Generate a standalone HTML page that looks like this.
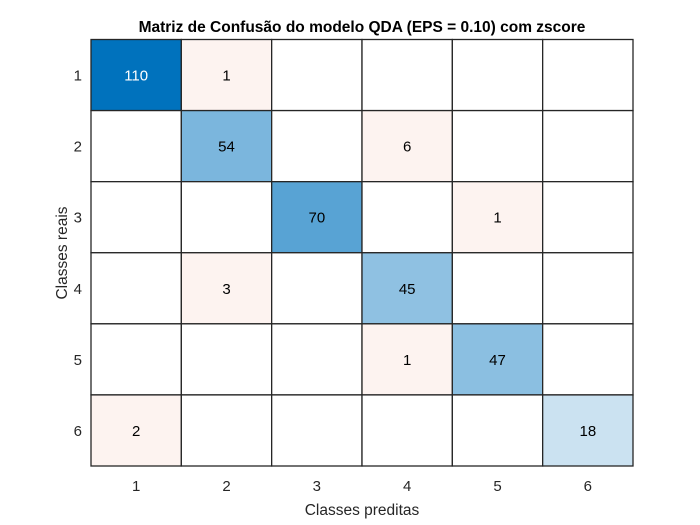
<!DOCTYPE html>
<html><head><meta charset="utf-8"><style>
html,body{margin:0;padding:0;background:#fff;}
svg{display:block;font-family:"Liberation Sans",Arial,sans-serif;}
</style></head><body>
<svg width="700" height="525" viewBox="0 0 700 525">
<text x="362" y="32" text-anchor="middle" font-size="15.5" font-weight="bold" fill="#000">Matriz de Confusão do modelo QDA (EPS = 0.10) com zscore</text>
<g id="cells"></g>
<g id="ticks"></g>
<text x="362" y="515" text-anchor="middle" font-size="15.5" fill="#262626">Classes preditas</text>
<text transform="translate(67,253) rotate(-90)" text-anchor="middle" font-size="15.5" fill="#262626">Classes reais</text>
</svg>
<script>
const classes = ['1','2','3','4','5','6'];
const matrix = [
  [110,1,0,0,0,0],
  [0,54,0,6,0,0],
  [0,0,70,0,1,0],
  [0,3,0,45,0,0],
  [0,0,0,1,47,0],
  [2,0,0,0,0,18]
];
const L=91,T=39.5,W=542,H=426.5;
const n=classes.length, cw=W/n, ch=H/n;
const xPos=i=>L+i*cw, yPos=i=>T+i*ch;
let mx=0; matrix.forEach(r=>r.forEach(v=>{if(v>mx)mx=v;}));
const NS='http://www.w3.org/2000/svg';
const cells=document.getElementById('cells'), ticks=document.getElementById('ticks');
function diagColor(v){
  const t=0.05+0.95*v/mx;
  return `rgb(${Math.round(255-255*t)},${Math.round(255-141*t)},${Math.round(255-66*t)})`;
}
matrix.forEach((row,r)=>row.forEach((v,c)=>{
  const rect=document.createElementNS(NS,'rect');
  
  
  rect.setAttribute('x',xPos(c));rect.setAttribute('y',yPos(r));
  rect.setAttribute('width',cw);rect.setAttribute('height',ch);
  rect.setAttribute('fill',v?(r===c?diagColor(v):'#fdf3f0'):'#fff');
  rect.setAttribute('stroke','#262626');rect.setAttribute('stroke-width','1.3');
  cells.appendChild(rect);
  if(v){
    const t=document.createElementNS(NS,'text');
    
    
    t.setAttribute('x',xPos(c)+cw/2);t.setAttribute('y',yPos(r)+ch/2+5.5);
    t.setAttribute('text-anchor','middle');t.setAttribute('font-size','15');
    t.setAttribute('fill',(r===c&&v/mx>0.8)?'#fff':'#000');
    t.textContent=v;cells.appendChild(t);
  }
}));
classes.forEach((c,i)=>{
  const tx=document.createElementNS(NS,'text');
  
  
  tx.setAttribute('x',xPos(i)+cw/2);tx.setAttribute('y',491);
  tx.setAttribute('text-anchor','middle');tx.setAttribute('font-size','15');tx.setAttribute('fill','#262626');
  tx.textContent=c;ticks.appendChild(tx);
  const ty=document.createElementNS(NS,'text');
  
  
  ty.setAttribute('x',82);ty.setAttribute('y',yPos(i)+ch/2+5.5);
  ty.setAttribute('text-anchor','end');ty.setAttribute('font-size','15');ty.setAttribute('fill','#262626');
  ty.textContent=c;ticks.appendChild(ty);
});
</script>
</body></html>
